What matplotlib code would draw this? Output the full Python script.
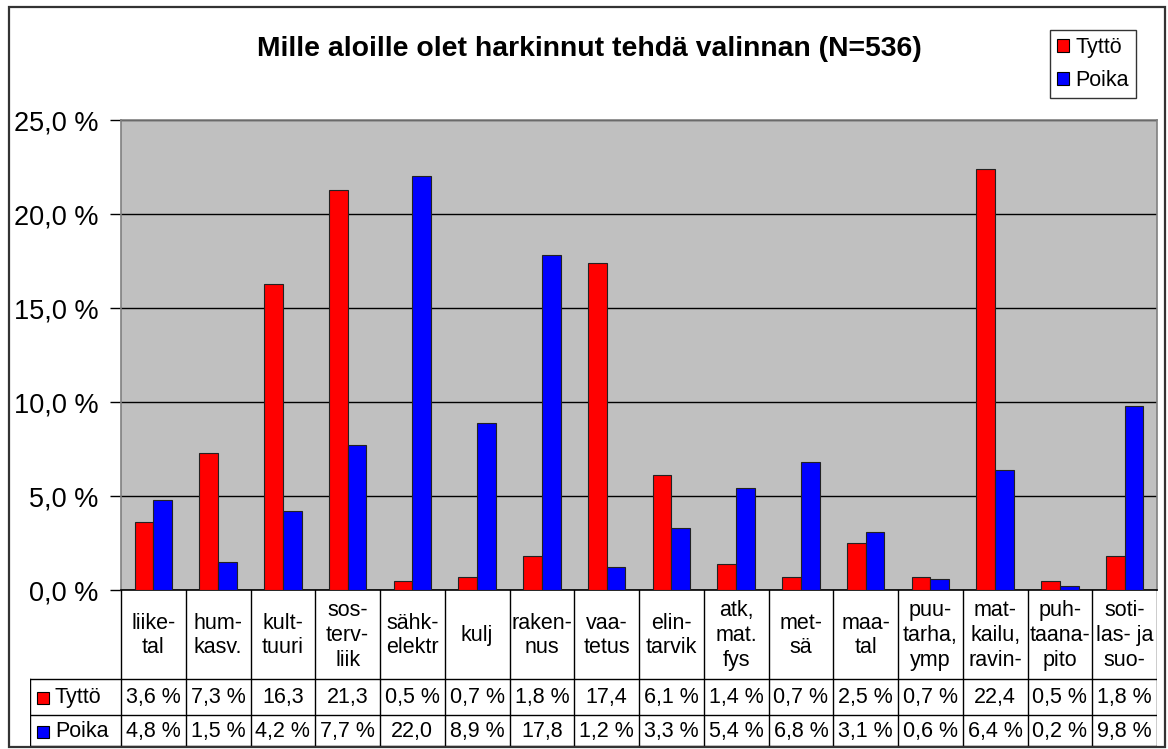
import matplotlib
matplotlib.use("Agg")
import matplotlib.pyplot as plt
from matplotlib.patches import Patch, Rectangle
from matplotlib.lines import Line2D
import numpy as np

plt.rcParams['font.family'] = ['Liberation Sans', 'DejaVu Sans']

title = "Mille aloille olet harkinnut tehdä valinnan (N=536)"
categories = ["liike-\ntal", "hum-\nkasv.", "kult-\ntuuri", "sos-\nterv-\nliik", "sähk-\nelektr",
              "kulj", "raken-\nnus", "vaa-\ntetus", "elin-\ntarvik", "atk,\nmat.\nfys",
              "met-\nsä", "maa-\ntal", "puu-\ntarha,\nymp", "mat-\nkailu,\nravin-",
              "puh-\ntaana-\npito", "soti-\nlas- ja\nsuo-"]
series_names = ["Tyttö", "Poika"]
tytto = [3.6, 7.3, 16.3, 21.3, 0.5, 0.7, 1.8, 17.4, 6.1, 1.4, 0.7, 2.5, 0.7, 22.4, 0.5, 1.8]
poika = [4.8, 1.5, 4.2, 7.7, 22.0, 8.9, 17.8, 1.2, 3.3, 5.4, 6.8, 3.1, 0.6, 6.4, 0.2, 9.8]
yticks = [0, 5, 10, 15, 20, 25]
ytick_labels = ["0,0 %", "5,0 %", "10,0 %", "15,0 %", "20,0 %", "25,0 %"]
colors = ["#FF0000", "#0000FF"]

W, H = 1168, 749
fig = plt.figure(figsize=(W / 100, H / 100), dpi=100)
fig.patch.set_facecolor("white")

# outer frame
fig.add_artist(Rectangle((9 / W, 1 - 747 / H), (1165 - 9) / W, (747 - 7) / H,
                         transform=fig.transFigure, fill=False, edgecolor="#333333", lw=1.6))

px_left, px_right, px_top, px_bottom = 121, 1157, 120, 590
ax = fig.add_axes([px_left / W, 1 - px_bottom / H, (px_right - px_left) / W, (px_bottom - px_top) / H])
ax.set_facecolor("#C0C0C0")
n = len(categories)
x = np.arange(n) + 0.5
bw = 0.29
ax.bar(x - bw / 2, tytto, bw, color=colors[0], edgecolor="#222222", linewidth=0.8, zorder=3)
ax.bar(x + bw / 2, poika, bw, color=colors[1], edgecolor="#222222", linewidth=0.8, zorder=3)
ax.set_xlim(0, n)
ax.set_ylim(0, 25)
ax.set_yticks(yticks)
ax.set_yticklabels(ytick_labels, fontsize=19.5)
ax.set_xticks([])
ax.tick_params(axis="y", direction="out", length=8, width=1, pad=8, colors="black")
ax.yaxis.grid(True, color="black", linewidth=1, zorder=1)
ax.set_axisbelow(True)
for s in ["top", "right", "left"]:
    ax.spines[s].set_color("#808080")
    ax.spines[s].set_linewidth(1.2)
ax.spines["bottom"].set_color("black")
ax.spines["bottom"].set_linewidth(1.2)

fig.text(589 / W, 1 - 49 / H, title, fontsize=20.4, fontweight="bold", ha="center", va="center")

# legend
handles = [Patch(facecolor=colors[i], edgecolor="black", linewidth=0.8, label=series_names[i]) for i in range(2)]
leg = fig.legend(handles=handles, loc="upper right", bbox_to_anchor=(1136 / W, 1 - 30 / H),
                 fontsize=15.5, frameon=True, fancybox=False, edgecolor="black",
                 handlelength=0.55, handleheight=0.55, handletextpad=0.3,
                 labelspacing=0.55, borderpad=0.32, borderaxespad=0)
leg.get_frame().set_linewidth(1)

# data table
tab_left = 30
unit = (px_right - px_left) / n
tax = fig.add_axes([tab_left / W, 1 - 746 / H, (px_right - tab_left) / W, (746 - 590) / H])
tax.set_xlim(-(px_left - tab_left) / unit, n)
tax.set_ylim(746, 590)
tax.axis("off")
row_lines = [590, 679, 715, 746]
lc = "black"
lw = 1
for b in range(n + 1):
    tax.add_line(Line2D([b, b], [590, 746], color=lc, lw=lw))
x0 = -(px_left - tab_left) / unit
tax.add_line(Line2D([x0, x0], [679, 746], color=lc, lw=lw))
for yl in row_lines[1:]:
    tax.add_line(Line2D([x0, n], [yl, yl], color=lc, lw=lw))

def fmt(v):
    s = f"{v:.1f}".replace(".", ",")
    return s if v >= 10 else s + " %"

for i, c in enumerate(categories):
    tax.text(x[i], (590 + 679) / 2 + 1, c, ha="center", va="center", fontsize=15.5, linespacing=1.22)
rows_y = [(679 + 715) / 2 + 1, (715 + 746) / 2 + 1]
for r, vals in enumerate([tytto, poika]):
    for i, v in enumerate(vals):
        tax.text(x[i], rows_y[r], fmt(v), ha="center", va="center", fontsize=15.5)
    sq = 12 / unit
    tax.add_patch(Rectangle((x0 + 7 / unit, rows_y[r] - 6), sq, 12, facecolor=colors[r],
                            edgecolor="black", lw=0.8))
    tax.text(x0 + 25 / unit, rows_y[r], series_names[r], ha="left", va="center", fontsize=15.5)

fig.savefig("out.png", dpi=100)
